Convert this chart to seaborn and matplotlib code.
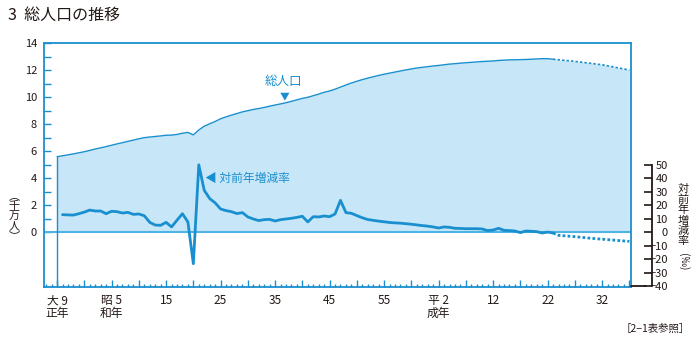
import numpy as np
import pandas as pd
import matplotlib
matplotlib.use("Agg")
import matplotlib.pyplot as plt
import seaborn as sns

# ---------------- data ----------------
pop_years = list(range(1920, 2012))
pop_values = [5.60, 5.67, 5.74, 5.81, 5.89, 5.97, 6.07, 6.17, 6.26, 6.35,
              6.45, 6.55, 6.64, 6.74, 6.83, 6.93, 7.01, 7.06, 7.10, 7.14,
              7.19, 7.20, 7.25, 7.34, 7.40, 7.22, 7.58, 7.86, 8.04, 8.21,
              8.41, 8.55, 8.68, 8.80, 8.92, 9.01, 9.10, 9.17, 9.25, 9.34,
              9.43, 9.51, 9.60, 9.70, 9.81, 9.92, 10.00, 10.12, 10.24, 10.37,
              10.47, 10.60, 10.76, 10.91, 11.06, 11.19, 11.31, 11.42, 11.52, 11.62,
              11.71, 11.79, 11.87, 11.95, 12.03, 12.10, 12.17, 12.22, 12.27, 12.32,
              12.36, 12.41, 12.46, 12.49, 12.53, 12.56, 12.59, 12.62, 12.65, 12.67,
              12.69, 12.73, 12.75, 12.77, 12.78, 12.79, 12.80, 12.82, 12.84, 12.86,
              12.86, 12.82]
proj_years = [2011, 2015, 2020, 2025]
proj_values = [12.82, 12.66, 12.41, 12.02]

rate_years = list(range(1921, 2012))
rate_values = [13.1, 12.9, 12.8, 13.8, 15.0, 16.5, 15.8, 15.8, 13.8, 15.6,
               15.3, 14.3, 14.8, 13.3, 13.6, 12.3, 7.4, 5.4, 5.2, 7.4,
               4.0, 9.0, 13.8, 7.7, -23.2, 50.0, 31.1, 25.0, 21.8, 17.3,
               16.1, 15.3, 13.9, 14.6, 11.4, 9.9, 8.7, 9.4, 9.6, 8.4,
               9.4, 9.9, 10.4, 11.1, 11.9, 7.7, 11.6, 11.4, 12.1, 11.6,
               13.6, 23.7, 14.6, 14.1, 12.4, 10.8, 9.5, 8.9, 8.3, 7.8,
               7.3, 7.0, 6.8, 6.4, 6.0, 5.5, 5.0, 4.6, 4.0, 3.2,
               4.0, 3.7, 3.0, 2.9, 2.7, 2.7, 2.7, 2.5, 1.3, 1.7,
               3.0, 1.5, 1.3, 1.0, -0.2, 1.0, 0.8, 0.5, -0.5, 0.2,
               -0.5]
rate_proj_years = [2011, 2012, 2015, 2018, 2021, 2025]
rate_proj_values = [-0.5, -2.2, -3.2, -4.4, -5.4, -6.7]

xtick_years = [1920, 1930, 1940, 1950, 1960, 1970, 1980, 1990, 2000, 2010, 2020]
xtick_labels = ["大 9\n正年", "昭 5\n和年", "15", "25", "35", "45", "55",
                "平 2\n成年", "12", "22", "32"]
left_ticks = list(range(0, 15, 2))
right_ticks = list(range(-40, 51, 10))

# ---------------- style ----------------
sns.set_theme(style="white")
plt.rcParams['font.family'] = ['Noto Sans CJK JP', 'DejaVu Sans']
plt.rcParams['axes.unicode_minus'] = True

BLUE = "#1a8fcf"
FILL = "#c7e7f8"
ZERO = "#4fb3e3"
TXT = "#231815"

W, H = 695, 341
fig = plt.figure(figsize=(W / 100, H / 100), dpi=100)
x0, x1, yt, yb = 44, 631, 43.3, 287.3
ax = fig.add_axes([x0 / W, 1 - yb / H, (x1 - x0) / W, (yb - yt) / H])

pop = pd.DataFrame({"year": pop_years, "pop": pop_values})
proj = pd.DataFrame({"year": proj_years, "pop": proj_values})
all_years = pop_years[:-1] + proj_years
all_vals = pop_values[:-1] + proj_values

ax.fill_between(all_years, 0, all_vals, color=FILL, lw=0, zorder=1)
sns.lineplot(data=pop, x="year", y="pop", ax=ax, color=BLUE, lw=1.0, zorder=3)
sns.lineplot(data=proj, x="year", y="pop", ax=ax, color=BLUE, lw=1.2,
             ls=(0, (1.5, 1.2)), zorder=3)
ax.plot([pop_years[0], pop_years[0]], [-4.07, pop_values[0]], color=BLUE, lw=1.0, zorder=3)
ax.axhline(0, color=ZERO, lw=1.5, zorder=2)

ax.set_xlim(1917.6, 2025.3)
ax.set_ylim(-4.07, 14)
ax.set_xlabel("")
ax.set_ylabel("")

for s in ax.spines.values():
    s.set_color(BLUE)
    s.set_linewidth(1.3)

ax.set_yticks(left_ticks)
ax.set_yticklabels([str(t) for t in left_ticks])
ax.set_yticks(range(1, 14, 2), minor=True)
ax.set_xticks(range(1920, 2026, 5))
ax.set_xticklabels([xtick_labels[xtick_years.index(y)] if y in xtick_years else ""
                    for y in range(1920, 2026, 5)])
ax.set_xticks(range(1918, 2026), minor=True)
ax.tick_params(axis="y", which="both", direction="in", length=5, width=1.0,
               color=BLUE, labelsize=8, labelcolor=TXT, pad=5, left=True)
ax.tick_params(axis="x", which="major", direction="in", length=5, width=1.0,
               color=BLUE, labelsize=8.5, labelcolor=TXT, pad=5, bottom=True)
ax.tick_params(axis="x", which="minor", direction="in", length=2.5, width=1.0,
               color=BLUE, bottom=True)
for lab in ax.get_xticklabels():
    lab.set_linespacing(0.95)

# secondary axis for rate (permil)
ax2 = ax.twinx()
ax2.set_ylim(-40.7, 140)
rate = pd.DataFrame({"year": rate_years, "rate": rate_values})
rproj = pd.DataFrame({"year": rate_proj_years, "rate": rate_proj_values})
sns.lineplot(data=rate, x="year", y="rate", ax=ax2, color=BLUE, lw=2.0)
sns.lineplot(data=rproj, x="year", y="rate", ax=ax2, color=BLUE, lw=2.0,
             ls=(0, (1.0, 0.8)))
ax2.set_xlim(1917.6, 2025.3)
ax2.set_ylabel("")
for k in ["top", "bottom", "left"]:
    ax2.spines[k].set_visible(False)
ax2.spines["right"].set_position(("outward", 15))
ax2.spines["right"].set_bounds(-40, 50)
ax2.spines["right"].set_color(TXT)
ax2.spines["right"].set_linewidth(1.3)
ax2.set_yticks(right_ticks)
ax2.set_yticklabels([str(t).replace("-", "−") for t in right_ticks])
ax2.tick_params(axis="y", direction="in", length=6, width=1.2, color=TXT,
                labelsize=8, labelcolor=TXT, pad=11.5, right=True)
for t in ax2.yaxis.get_major_ticks():
    t.label2.set_horizontalalignment("right")
ax2.plot([1.0, 1.0 + 15 / (x1 - x0)], [-40, -40], transform=ax2.get_yaxis_transform(),
         color=TXT, lw=1.3, clip_on=False)

# annotations
ax.text(1961.5, 11.16, "総人口", color=BLUE, fontsize=9, ha="center", va="center")
ax.text(1961.7, 10.1, "▼", color=BLUE, fontsize=7, ha="center", va="center")
ax.text(1947.2, 4.02, "◀ 対前年増減率", color=BLUE, fontsize=8.5, ha="left", va="center")

# figure texts
fig.text(8 / W, 1 - 15 / H, "3  総人口の推移", fontsize=11.5, color=TXT, va="center", ha="left")
fig.text(14 / W, 1 - 216 / H, "︵\n千\n万\n人\n︶", fontsize=8, color=TXT,
         va="center", ha="center", linespacing=1.0)
fig.text(683 / W, 1 - 215 / H, "対\n前\n年\n増\n減\n率", fontsize=8, color=TXT,
         va="center", ha="center", linespacing=1.0)
fig.text(683 / W, 1 - 262 / H, "(‰)", fontsize=7.5, color=TXT, va="center",
         ha="center", rotation=-90)
fig.text(690 / W, 1 - 329 / H, "［2−1表参照］", fontsize=7.5, color=TXT,
         va="center", ha="right")

fig.savefig("out.png", dpi=100)
